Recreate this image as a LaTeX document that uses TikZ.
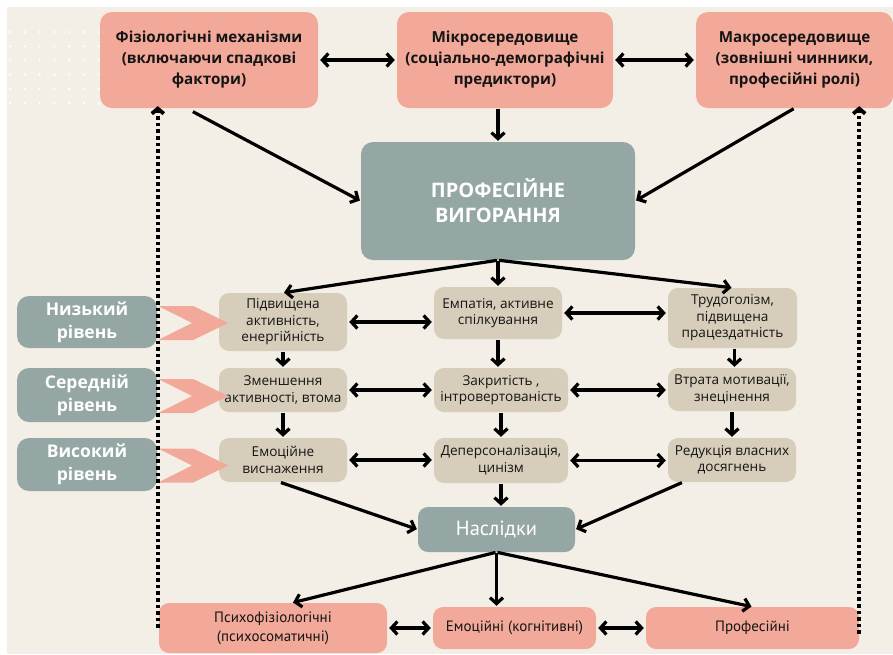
\documentclass[tikz,border=0pt]{standalone}
\usepackage{fontspec}
\setmainfont{Open Sans}
\newfontfamily\narrowfont{PT Sans}
\usetikzlibrary{arrows.meta, calc}
\definecolor{bgbeige}{HTML}{F3EFE7}
\definecolor{salmon}{HTML}{F2A999}
\definecolor{slate}{HTML}{95A7A5}
\definecolor{sand}{HTML}{D6CEBA}
\definecolor{inkblack}{HTML}{151515}

\begin{document}
\begin{tikzpicture}[x=1pt, y=-1pt,
		every node/.style={inner sep=0pt, align=center, text=inkblack},
		factorbox/.style={fill=salmon, rounded corners=12pt, font=\fontsize{15.2}{21}\selectfont\bfseries},
		burnbox/.style={fill=slate, rounded corners=12pt, text=white, font=\fontsize{20}{25}\selectfont\bfseries},
		levelbox/.style={fill=slate, rounded corners=12pt, text=white, font=\fontsize{17.5}{23}\selectfont\bfseries},
		stagebox/.style={fill=sand, rounded corners=10pt, font=\fontsize{13.6}{16.5}\selectfont},
		conseqbox/.style={fill=slate, rounded corners=10pt, text=white, font=\narrowfont\fontsize{20.5}{22}\selectfont},
		resultbox/.style={fill=salmon, rounded corners=10pt, font=\narrowfont\fontsize{15}{19}\selectfont},
		link/.style={line width=3.2pt, shorten >=1pt, shorten <=1pt, -{Straight Barb[length=6pt,width=13pt]}},
		twolink/.style={line width=3.2pt, shorten >=2pt, shorten <=2pt, {Straight Barb[length=6pt,width=13pt]}-{Straight Barb[length=6pt,width=13pt]}},
		feedback/.style={line width=3.8pt, dash pattern=on 3.6pt off 3pt, -{Straight Barb[length=5pt,width=12pt]}},
		chevron/.style={fill=salmon}
	]
	% background and dot pattern
	\fill[white] (0,0) rectangle (893,654);
	\fill[bgbeige] (7,7) rectangle (893,654);
	\foreach \i in {0,...,6}
		\foreach \j in {0,...,5}
			\fill[white] (10+14.8*\i, 32+14.2*\j) circle[radius=1.3];

	% factors
	\node[factorbox, minimum width=218pt, minimum height=96pt] (fiz) at (209,60) {Фізіологічні механізми\\(включаючи спадкові\\фактори)};
	\node[factorbox, minimum width=216pt, minimum height=96pt] (mikro) at (505,60) {Мікросередовище\\(соціально-демографічні\\предиктори)};
	\node[factorbox, minimum width=197pt, minimum height=96pt] (makro) at (794.5,60) {Макросередовище\\(зовнішні чинники,\\професійні ролі)};
	\node[burnbox, minimum width=274pt, minimum height=118pt] (burn) at (498,201) {ПРОФЕСІЙНЕ\\ВИГОРАННЯ};

	% levels
	\node[levelbox, minimum width=140pt, minimum height=52pt] (low) at (87,322) {Низький\\рівень};
	\node[levelbox, minimum width=140pt, minimum height=54pt] (mid) at (87,395) {Середній\\рівень};
	\node[levelbox, minimum width=140pt, minimum height=53pt] (high) at (87,464.5) {Високий\\рівень};

	% stages
	\node[stagebox, minimum width=128pt, minimum height=58pt] (r1L) at (283,322) {Підвищена\\активність,\\енергійність};
	\node[stagebox, minimum width=128pt, minimum height=52pt] (r1C) at (498,313) {Емпатія, активне\\спілкування};
	\node[stagebox, minimum width=129pt, minimum height=60pt] (r1R) at (732.5,318) {Трудоголізм,\\підвищена\\працездатність};
	\node[stagebox, minimum width=128pt, minimum height=44pt] (r2L) at (283,390) {Зменшення\\активності, втома};
	\node[stagebox, minimum width=134pt, minimum height=44pt] (r2C) at (501,390) {Закритість ,\\інтровертованість};
	\node[stagebox, minimum width=128pt, minimum height=43pt] (r2R) at (732,389.5) {Втрата мотивації,\\знецінення};
	\node[stagebox, minimum width=128pt, minimum height=44pt] (r3L) at (283,460) {Емоційне\\виснаження};
	\node[stagebox, minimum width=134pt, minimum height=45pt] (r3C) at (501,460.5) {Деперсоналізація,\\цинізм};
	\node[stagebox, minimum width=128pt, minimum height=44pt] (r3R) at (732,460) {Редукція власних\\досягнень};

	% consequences
	\node[conseqbox, minimum width=157pt, minimum height=45pt] (nasl) at (496.5,529.5) {Наслідки};
	\node[resultbox, minimum width=228pt, minimum height=50pt] (psy) at (273,628) {Психофізіологічні\\(психосоматичні)};
	\node[resultbox, minimum width=163pt, minimum height=42pt] (emo) at (514.5,628) {Емоційні (когнітивні)};
	\node[resultbox, minimum width=213pt, minimum height=42pt] (prof) at (752.5,628) {Професійні};

	% chevrons from levels
	\foreach \lv in {low, mid, high}
		\fill[chevron] ([yshift=-1pt]\lv.east) ++(1,-17) -- ++(35,0) -- ++(35,17) -- ++(-35,17) -- ++(-35,0) -- ++(34,-17) -- cycle;

	% top connections
	\draw[twolink] (fiz.east) -- (mikro.west);
	\draw[twolink] (mikro.east) -- (makro.west);
	\draw[link] ($(fiz.south)+(-17,3)$) -- (burn.west);
	\draw[link] (mikro.south -| burn.north) -- (burn.north);
	\draw[link] (makro.south) -- (burn.east);
	\draw[link] (burn.south) -- (r1L.north);
	\draw[link] (burn.south) -- (r1C.north);
	\draw[link] (burn.south) -- (r1R.north);

	% rows
	\draw[twolink] (r1L.east) -- (r1L.east -| r1C.west);
	\draw[twolink] (r1C.east) -- (r1C.east -| r1R.west);
	\draw[twolink] (r2L.east) -- (r2L.east -| r2C.west);
	\draw[twolink] (r2C.east) -- (r2C.east -| r2R.west);
	\draw[twolink] (r3L.east) -- (r3L.east -| r3C.west);
	\draw[twolink] (r3C.east) -- (r3C.east -| r3R.west);

	% columns
	\draw[link] (r1L.south) -- (r1L.south |- r2L.north);
	\draw[link] (r2L.south) -- (r2L.south |- r3L.north);
	\draw[link] (r1C.south) -- (r1C.south |- r2C.north);
	\draw[link] (r2C.south) -- (r2C.south |- r3C.north);
	\draw[link] ([xshift=2pt]r1R.south) -- ([xshift=2pt]r1R.south |- r2R.north);
	\draw[link] (r2R.south) -- (r2R.south |- r3R.north);

	% consequences
	\draw[link] ([xshift=-3pt]r3L.south) -- (nasl.west);
	\draw[link] (r3C.south) -- (r3C.south |- nasl.north);
	\draw[link] ($(r3R.south west)+(15,0)$) -- (nasl.east);
	\draw[link] (nasl.south) -- ([xshift=19pt]psy.north);
	\draw[link] (nasl.south) -- (nasl.south |- emo.north);
	\draw[link] (nasl.south) -- (prof.north);
	\draw[twolink] (psy.east) -- (emo.west);
	\draw[twolink] (emo.east) -- (prof.west);

	% feedback
	\draw[feedback] ([xshift=-1pt]psy.west) -- ([xshift=-1pt, yshift=2pt]psy.west |- fiz.south);
	\draw[feedback] ([yshift=-6pt]prof.east) -- ([yshift=2pt]prof.east |- makro.south);
\end{tikzpicture}
\end{document}
